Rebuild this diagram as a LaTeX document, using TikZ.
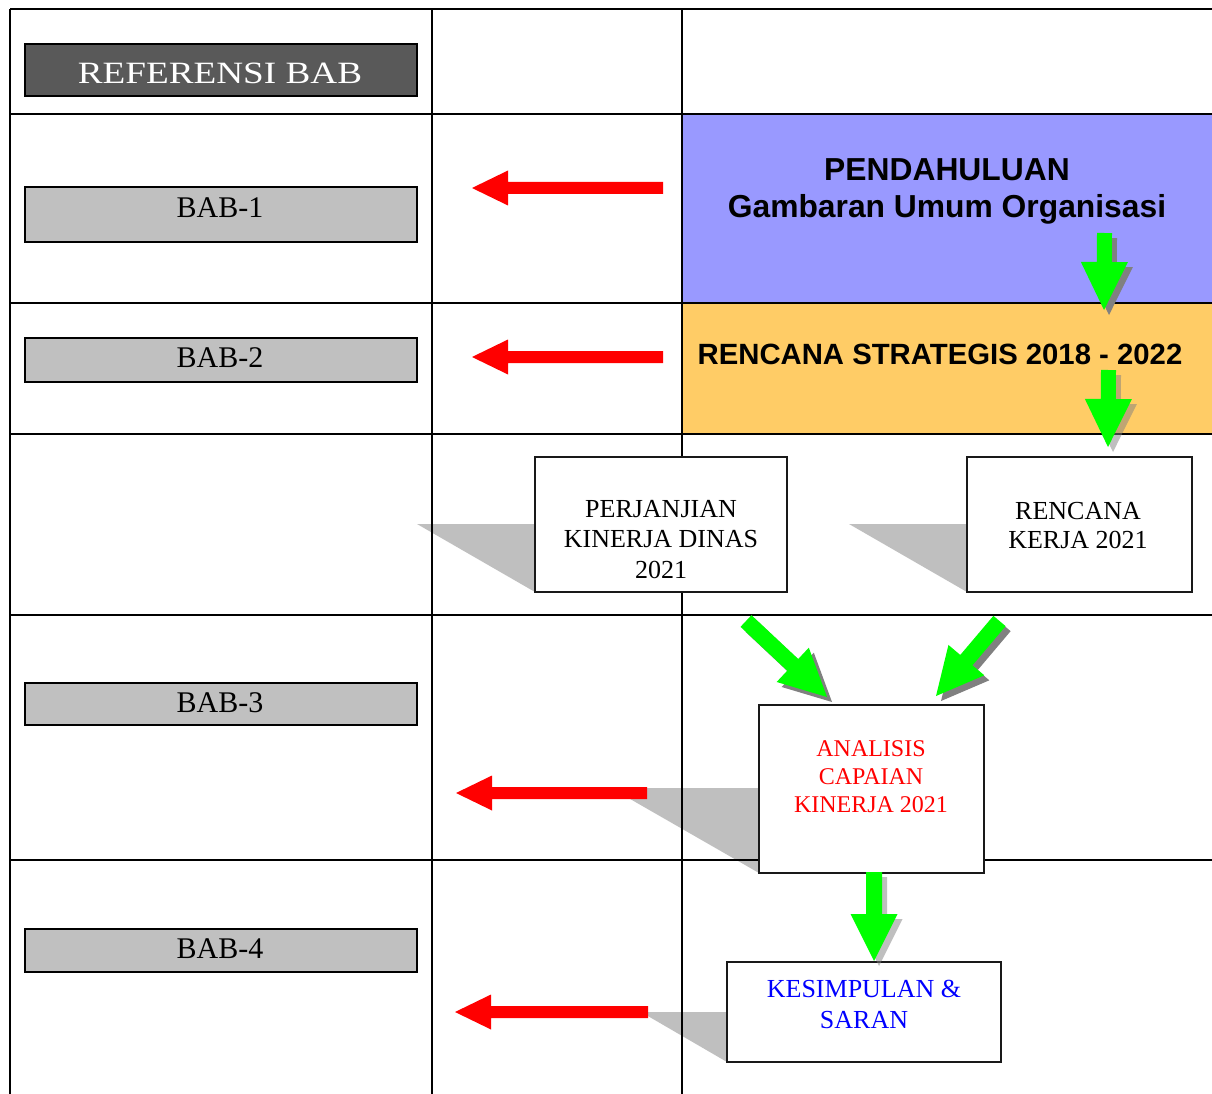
\documentclass[tikz,border=0pt]{standalone}
\usepackage{fontspec}
\setmainfont{Liberation Serif}
\newfontfamily\arialfont{Liberation Sans}
\usetikzlibrary{calc}
\definecolor{purp}{HTML}{9999FF}
\definecolor{oran}{HTML}{FFCC66}
\definecolor{boxgray}{HTML}{C0C0C0}
\definecolor{darkbox}{HTML}{595959}
\definecolor{wedgegray}{HTML}{BFBFBF}
\definecolor{grn}{HTML}{00FF00}
\definecolor{rd}{HTML}{FF0000}
\definecolor{blu}{HTML}{0000FF}
\definecolor{shadowdark}{HTML}{808080}
\newcommand\blockarrow[6]{%
  \path ($(#3)!#6!(#2)$) coordinate (hb);
  \fill[#1] ($(#2)!#4!90:(#3)$) -- ($(hb)!#4!90:(#3)$) -- ($(hb)!#5!90:(#3)$) -- (#3)
    -- ($(hb)!#5!-90:(#3)$) -- ($(hb)!#4!-90:(#3)$) -- ($(#2)!#4!-90:(#3)$) -- cycle;}
\newcommand\stacklines[1]{\begin{tabular}[t]{@{}c@{}}#1\end{tabular}}
\begin{document}
\begin{tikzpicture}[x=1pt,y=-1pt,
  gridline/.style={line width=2pt, black},
  babbox/.style={draw=black, line width=2pt, fill=boxgray, minimum width=392pt, inner sep=0pt},
  babtext/.style={anchor=base, inner sep=0pt, font=\fontsize{30}{36}\selectfont},
  flowbox/.style={draw=black!90, line width=1.8pt, fill=white, inner sep=0pt},
  flowtext/.style={anchor=base, inner sep=0pt},
  wedge/.style={fill=wedgegray},
]
\useasboundingbox (0,0) rectangle (1212,1094);
\fill[white] (0,0) rectangle (1212,1094);

% coloured cells
\fill[purp] (682,114) rectangle (1212,303);
\fill[oran] (682,303) rectangle (1212,434);

% grey wedges
\fill[wedge] (417,524) -- (535,524) -- (535,592) -- cycle;
\fill[wedge] (849,524) -- (967,524) -- (967,592) -- cycle;
\fill[wedge] (611,788) -- (759,788) -- (759,873) -- cycle;
\fill[wedge] (641,1012) -- (727,1012) -- (727,1062) -- cycle;

% table grid
\draw[gridline] (10,9.5) -- (1212,9.5);
\foreach \yy in {114,303,434,615,860} \draw[gridline] (10,\yy) -- (1212,\yy);
\foreach \xx in {10,432,682} \draw[gridline] (\xx,9.5) -- (\xx,1094);

% left column boxes
\node[babbox, fill=darkbox, minimum height=52pt] (refbox) at (221,70) {};
\node[babtext, text=white, font=\fontsize{31}{36}\selectfont] (reftext) at (220,83.5) {\scalebox{1.2}[1]{REFERENSI BAB}};
\node[babbox, minimum height=55pt] (bab1) at (221,214.5) {};
\node[babtext] (bab1t) at (220,218) {BAB-1};
\node[babbox, minimum height=44pt] (bab2) at (221,360) {};
\node[babtext] (bab2t) at (220,367) {BAB-2};
\node[babbox, minimum height=42pt] (bab3) at (221,704) {};
\node[babtext] (bab3t) at (220,712) {BAB-3};
\node[babbox, minimum height=43pt] (bab4) at (221,950.5) {};
\node[babtext] (bab4t) at (220,958) {BAB-4};

% coloured cell texts
\node[flowtext, font=\arialfont\bfseries\fontsize{31.8}{37}\selectfont] (pendt) at (947,181)
  {\stacklines{PENDAHULUAN\\Gambaran Umum Organisasi}};
\node[flowtext, font=\arialfont\bfseries\fontsize{29.3}{35}\selectfont] (renstrat) at (940,364)
  {RENCANA STRATEGIS 2018 - 2022};

% red arrows
\coordinate (r1s) at (663,188); \coordinate (r1e) at (472,188);
\coordinate (r2s) at (663,357); \coordinate (r2e) at (472,357);
\coordinate (r3s) at (647,793); \coordinate (r3e) at (456,793);
\coordinate (r4s) at (648,1012); \coordinate (r4e) at (455,1012);
\blockarrow{fill=rd}{r1s}{r1e}{6pt}{17.5pt}{36pt}
\blockarrow{fill=rd}{r2s}{r2e}{6pt}{17.5pt}{36pt}
\blockarrow{fill=rd}{r3s}{r3e}{6pt}{17.5pt}{36pt}
\blockarrow{fill=rd}{r4s}{r4e}{6pt}{17.5pt}{36pt}

% flow boxes
\node[flowbox, minimum width=252pt, minimum height=135pt] (pk) at (661,524.5) {};
\node[flowtext, font=\fontsize{26}{30.5}\selectfont] (pkt) at (661,517)
  {\stacklines{PERJANJIAN\\KINERJA DINAS\\2021}};
\node[flowbox, minimum width=225pt, minimum height=135pt] (rk) at (1079.5,524.5) {};
\node[flowtext, font=\fontsize{26}{29}\selectfont] (rkt) at (1078,519)
  {\stacklines{RENCANA\\KERJA 2021}};
\node[flowbox, minimum width=225pt, minimum height=168pt] (ak) at (871.5,789) {};
\node[flowtext, text=rd, font=\fontsize{24}{28}\selectfont] (akt) at (871,756)
  {\stacklines{ANALISIS\\CAPAIAN\\KINERJA 2021}};
\node[flowbox, minimum width=274pt, minimum height=100pt] (ks) at (864,1012) {};
\node[flowtext, text=blu, font=\fontsize{26}{31}\selectfont] (kst) at (864,997)
  {\stacklines{KESIMPULAN \&\\SARAN}};

% green arrows
\coordinate (g1s) at (1104.5,233); \coordinate (g1e) at (1104,310);
\coordinate (g2s) at (1108.5,370); \coordinate (g2e) at (1108,447);
\coordinate (g3s) at (746,621); \coordinate (g3e) at (827,697);
\coordinate (g4s) at (999.5,621); \coordinate (g4e) at (936,696);
\coordinate (g5s) at (874,872); \coordinate (g5e) at (874,961);
\begin{scope}[transform canvas={shift={(5,5)}}]
  \blockarrow{fill=shadowdark}{g1s}{g1e}{7.5pt}{23.5pt}{48pt}
  \blockarrow{fill=shadowdark, fill opacity=0.5}{g2s}{g2e}{7.5pt}{23.5pt}{48pt}
  \blockarrow{fill=shadowdark}{g3s}{g3e}{8pt}{23.5pt}{47pt}
  \blockarrow{fill=shadowdark}{g4s}{g4e}{8pt}{23.5pt}{47pt}
  \blockarrow{fill=shadowdark, fill opacity=0.5}{g5s}{g5e}{8pt}{23.5pt}{47pt}
\end{scope}
\blockarrow{fill=grn}{g1s}{g1e}{7.5pt}{23.5pt}{48pt}
\blockarrow{fill=grn}{g2s}{g2e}{7.5pt}{23.5pt}{48pt}
\blockarrow{fill=grn}{g3s}{g3e}{8pt}{23.5pt}{47pt}
\blockarrow{fill=grn}{g4s}{g4e}{8pt}{23.5pt}{47pt}
\blockarrow{fill=grn}{g5s}{g5e}{8pt}{23.5pt}{47pt}
\end{tikzpicture}
\end{document}
